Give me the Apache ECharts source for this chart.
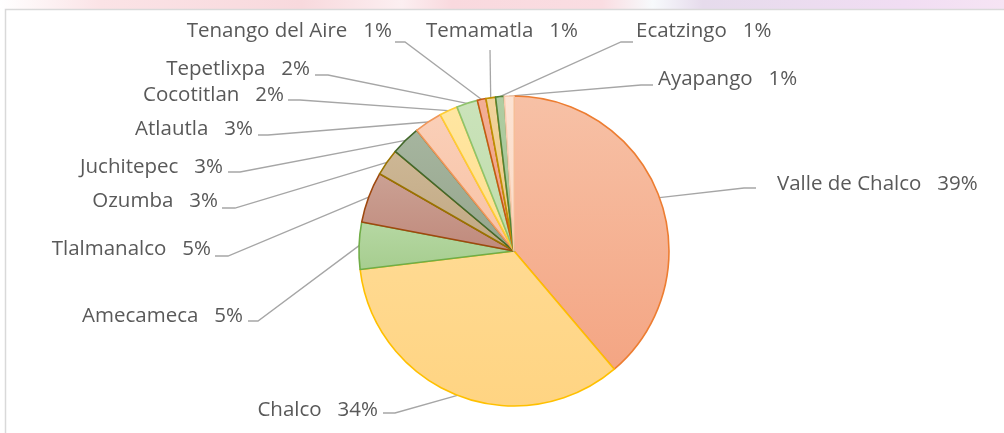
<!DOCTYPE html>
<html>
<head>
<meta charset="utf-8">
<script src="https://cdn.jsdelivr.net/npm/echarts@6/dist/echarts.min.js"></script>
<style>
html,body{margin:0;padding:0;background:#fff;}
#chart{width:1004px;height:433px;}
</style>
</head>
<body>
<div id="chart"></div>
<script>
// ---- data ----
const categories = ['Valle de Chalco','Chalco','Amecameca','Tlalmanalco','Ozumba','Juchitepec','Atlautla','Cocotitlan','Tepetlixpa','Tenango del Aire','Temamatla','Ecatzingo','Ayapango'];
const shares = [38.8, 34.3, 4.9, 5.3, 2.8, 3.1, 2.9, 1.9, 2.2, 0.9, 1.0, 0.9, 1.0];

// ---- styles ----
const fillTop = ['#F7C1A6','#FFDA92','#B6D8A3','#CBA194','#CDB795','#A6B59F','#FACFB8','#FFE6A2','#CBE3BB','#F3AE95','#F1D39B','#B0CDA2','#FCE3D3'];
const fillBot = ['#F4A583','#FFD482','#A6CD8F','#C08A7C','#C1A883','#96A68D','#F8C2A4','#FFDF8F','#BEDCAA','#EFA084','#ECC886','#A2C392','#FBDAC6'];
const borders = ['#ED7D31','#FFC000','#70AD47','#9E480E','#997300','#43682B','#F1975A','#FFCD33','#8FC36B','#C55A11','#BF9000','#548235','#F8CBAD'];
// label layout (text anchor + leader-line bend points)
const labelPos = [
  {x:777,y:184,align:'left', line:[[744,188],[756,188]]},
  {x:378,y:410,align:'right',line:[[395,413],[383,413]]},
  {x:243,y:316,align:'right',line:[[258,321],[248,321]]},
  {x:211,y:249,align:'right',line:[[228,256],[215,256]]},
  {x:218,y:201,align:'right',line:[[235,208],[222,208]]},
  {x:223,y:167,align:'right',line:[[240,172],[228,172]]},
  {x:253,y:129,align:'right',line:[[268,135],[258,135]]},
  {x:284,y:95, align:'right',line:[[300,100],[288,100]]},
  {x:310,y:69, align:'right',line:[[328,75],[315,75]]},
  {x:392,y:31, align:'right',line:[[405,42],[395,42]]},
  {x:502,y:31, align:'center',line:[[490,50]]},
  {x:636,y:31, align:'left', line:[[621,42],[633,42]]},
  {x:658,y:79, align:'left', line:[[641,85],[653,85]]}
];

const chart = echarts.init(document.getElementById('chart'), null, {renderer:'canvas'});
const data = categories.map((n,i)=>({
  name:n, value:shares[i],
  itemStyle:{
    color:new echarts.graphic.LinearGradient(0,0,0,1,[{offset:0,color:fillTop[i]},{offset:1,color:fillBot[i]}]),
    borderColor:borders[i], borderWidth:1.6
  }
}));

chart.setOption({
  animation:false,
  backgroundColor:'#ffffff',
  graphic:[
    {type:'rect', shape:{x:0,y:0,width:1004,height:9}, z:-10,
     style:{fill:new echarts.graphic.LinearGradient(0,0,1,0,[
       {offset:0,color:'#FFFFFF'},{offset:0.1,color:'#FBE3E6'},{offset:0.3,color:'#F8D9DD'},
       {offset:0.4,color:'#FCEFF1'},{offset:0.45,color:'#F9D9DE'},{offset:0.6,color:'#FADDE2'},
       {offset:0.65,color:'#F7FAFC'},{offset:0.7,color:'#E6DBEC'},{offset:0.9,color:'#F1DDF3'},{offset:1,color:'#F6E4F4'}])}},
    {type:'polyline', shape:{points:[[5.5,433],[5.5,9.5],[1004,9.5]]}, z:-5,
     style:{stroke:'#D9D9D9', lineWidth:1.5, fill:null}}
  ],
  series:[{
    type:'pie',
    center:[514,251],
    radius:155,
    startAngle:90,
    clockwise:true,
    avoidLabelOverlap:false,
    data:data,
    label:{
      show:true,
      formatter:p=>p.name+'   '+Math.round(p.percent)+'%',
      color:'#595959',
      fontFamily:'Open Sans',
      fontSize:20.5
    },
    labelLine:{show:true, length:10, length2:10, lineStyle:{color:'#A6A6A6', width:1.3}},
    labelLayout:function(params){
      const L = labelPos[params.dataIndex];
      const start = params.labelLinePoints ? params.labelLinePoints[0] : null;
      const pts = start ? [start].concat(L.line) : L.line;
      return {x:L.x, y:L.y, align:L.align, verticalAlign:'middle', labelLinePoints:pts};
    },
    emphasis:{disabled:true}
  }]
});
</script>
</body>
</html>
